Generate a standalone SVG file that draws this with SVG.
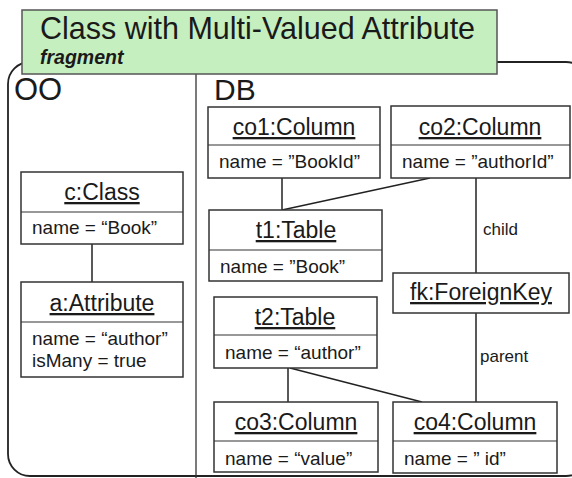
<svg xmlns="http://www.w3.org/2000/svg" width="572" height="478" viewBox="0 0 572 478">
<style>
text{font-family:"Liberation Sans",Arial,sans-serif;fill:#1a1a1a}
.box{fill:#fff;stroke:#333;stroke-width:1.5}
.div{stroke:#333;stroke-width:1.2}
.t{font-size:23px;text-anchor:middle;text-decoration:underline}
.a{font-size:19px}
.lbl{font-size:17px}
.con line{stroke:#222;stroke-width:1.5}
</style>
<rect width="572" height="478" fill="#fff"/>
<g id="frame">
<rect x="8" y="62" width="580" height="414" rx="22" fill="none" stroke="#222" stroke-width="1.8"/>
<line x1="196" y1="62" x2="196" y2="478" stroke="#333" stroke-width="1.3"/>
<text x="14" y="100" font-size="31">OO</text>
<text x="214" y="100" font-size="30">DB</text>
</g>
<g id="title">
<rect x="22" y="10" width="475" height="64" fill="#c6efc0" stroke="#555" stroke-width="1.5"/>
<text x="40" y="39" font-size="30.5">Class with Multi-Valued Attribute</text>
<text x="40" y="64" font-size="19.5" font-weight="bold" font-style="italic">fragment</text>
</g>
<g class="con" id="connectors">
<line x1="92" y1="244" x2="92" y2="282"/>
<line x1="282" y1="178" x2="282" y2="210"/>
<line x1="430" y1="178" x2="282" y2="210"/>
<line x1="476" y1="178" x2="476" y2="273"/>
<line x1="476" y1="313" x2="476" y2="402"/>
<line x1="288" y1="368" x2="288" y2="402"/>
<line x1="290" y1="368" x2="422" y2="402"/>
<text class="lbl" x="483" y="235">child</text>
<text class="lbl" x="480" y="362">parent</text>
</g>
<g id="cClass">
<rect class="box" x="21" y="172" width="162" height="72"/>
<line class="div" x1="21" y1="212" x2="183" y2="212"/>
<text class="t" x="102" y="200">c:Class</text>
<text class="a" x="32" y="234">name = “Book”</text>
</g>
<g id="aAttribute">
<rect class="box" x="21" y="282" width="162" height="95"/>
<line class="div" x1="21" y1="322" x2="183" y2="322"/>
<text class="t" x="102" y="311">a:Attribute</text>
<text class="a" x="32" y="345">name = “author”</text>
<text class="a" x="32" y="367">isMany = true</text>
</g>
<g id="co1">
<rect class="box" x="208" y="107" width="172" height="71"/>
<line class="div" x1="208" y1="145" x2="380" y2="145"/>
<text class="t" x="294" y="135">co1:Column</text>
<text class="a" x="219" y="168">name = ”BookId”</text>
</g>
<g id="co2">
<rect class="box" x="391" y="106" width="179" height="72"/>
<line class="div" x1="391" y1="145" x2="570" y2="145"/>
<text class="t" x="480" y="135">co2:Column</text>
<text class="a" x="402" y="168">name = ”authorId”</text>
</g>
<g id="t1">
<rect class="box" x="209" y="210" width="173" height="71"/>
<line class="div" x1="209" y1="250" x2="382" y2="250"/>
<text class="t" x="296" y="238">t1:Table</text>
<text class="a" x="220" y="273">name = ”Book”</text>
</g>
<g id="fk">
<rect class="box" x="393" y="273" width="176" height="40"/>
<text class="t" x="481" y="300">fk:ForeignKey</text>
</g>
<g id="t2">
<rect class="box" x="214" y="297" width="163" height="71"/>
<line class="div" x1="214" y1="335" x2="377" y2="335"/>
<text class="t" x="295" y="325">t2:Table</text>
<text class="a" x="225" y="359">name = “author”</text>
</g>
<g id="co3">
<rect class="box" x="214" y="402" width="164" height="70"/>
<line class="div" x1="214" y1="441" x2="378" y2="441"/>
<text class="t" x="296" y="430">co3:Column</text>
<text class="a" x="225" y="465">name = “value”</text>
</g>
<g id="co4">
<rect class="box" x="393" y="402" width="164" height="71"/>
<line class="div" x1="393" y1="441" x2="557" y2="441"/>
<text class="t" x="475" y="430">co4:Column</text>
<text class="a" x="404" y="465">name = ” id”</text>
</g>
</svg>
